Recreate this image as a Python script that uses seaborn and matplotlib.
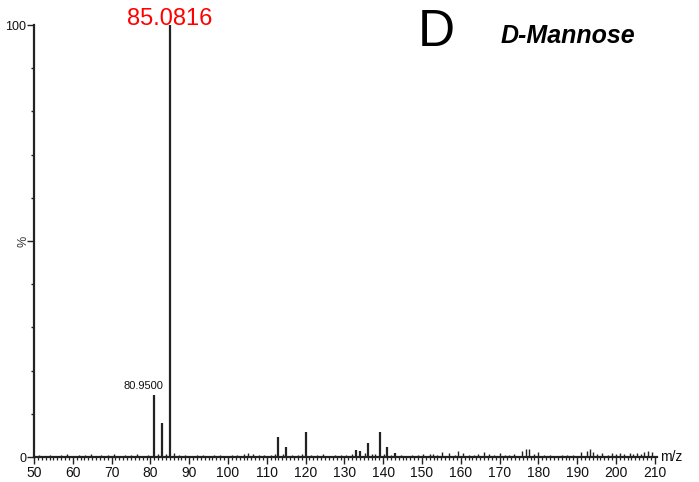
import matplotlib
matplotlib.use("Agg")
import matplotlib.pyplot as plt
from matplotlib.ticker import MultipleLocator, FixedLocator
import seaborn as sns

# Labelled / prominent fragment ions (m/z, relative intensity %)
peak_mz = [80.95, 83.0, 85.0816, 113.0, 115.0, 120.0, 133.1, 134.1, 136.1, 139.1, 141.0, 143.0]
peak_int = [14.4, 7.8, 100.0, 4.7, 2.4, 5.9, 1.6, 1.4, 3.3, 5.9, 2.4, 0.9]

# Low-level background ions along the baseline
noise_mz = [
    51.2, 52.5, 54.1, 55.3, 57.0, 58.4, 60.2, 61.5, 63.1, 64.6,
    66.0, 67.3, 69.0, 70.5, 72.1, 73.4, 75.0, 76.6, 78.1, 79.3,
    82.0, 84.1, 86.2, 87.5, 89.0, 90.3, 92.0, 93.6, 95.1, 96.4,
    98.0, 99.5, 101.0, 102.4, 104.0, 105.1, 106.5, 108.0, 109.3, 111.0,
    112.2, 114.1, 116.5, 118.0, 119.2, 121.5, 123.0, 124.6, 126.1, 127.5,
    129.0, 130.5, 132.0, 135.2, 137.1, 138.0, 140.2, 142.0, 144.5, 146.0,
    147.5, 149.0, 150.3, 152.0, 152.8, 154.0, 155.2, 157.0, 158.5, 159.3,
    160.6, 162.0, 163.4, 164.5, 166.0, 167.2, 168.5, 170.0, 171.3, 172.5,
    173.8, 175.7, 176.7, 177.7, 179.0, 180.0, 181.5, 183.0, 184.5, 186.0,
    187.5, 189.0, 191.0, 192.5, 193.2, 194.0, 195.2, 196.5, 198.0, 199.0,
    200.0, 201.0, 202.2, 203.5, 204.5, 205.5, 206.5, 207.2, 208.2, 209.3,
]
noise_int = [
    0.4, 0.3, 0.5, 0.3, 0.4, 0.6, 0.3, 0.4, 0.5, 0.8,
    0.3, 0.5, 0.4, 0.7, 0.3, 0.4, 0.5, 0.6, 0.3, 0.5,
    0.6, 0.8, 0.9, 0.5, 0.4, 0.3, 0.5, 0.4, 0.3, 0.5,
    0.4, 0.3, 0.5, 0.4, 0.6, 1.0, 0.7, 0.5, 0.4, 0.5,
    0.6, 0.7, 0.5, 0.4, 0.6, 0.5, 0.4, 0.6, 0.3, 0.4,
    0.5, 0.4, 0.6, 0.9, 0.7, 0.8, 0.6, 0.5, 0.4, 0.3,
    0.5, 0.4, 0.6, 0.6, 0.7, 0.5, 1.2, 0.9, 0.5, 1.3,
    1.0, 0.5, 0.4, 0.6, 1.2, 0.6, 0.5, 1.0, 0.4, 0.5,
    0.6, 1.5, 1.8, 1.8, 0.6, 1.2, 0.5, 0.4, 0.3, 0.5,
    0.4, 0.5, 1.2, 1.5, 1.8, 1.2, 0.7, 1.0, 0.5, 0.9,
    0.6, 0.9, 0.6, 1.0, 0.6, 1.0, 0.7, 1.2, 1.5, 1.2,
]

base_peak = "85.0816"
sub_label = "80.9500"
panel = "D"
compound = "D-Mannose"
x_ticks = list(range(50, 211, 10))

sns.set_theme(style="ticks")
plt.rcParams["font.family"] = ["Liberation Sans", "DejaVu Sans"]

fig = plt.figure(figsize=(6.99, 4.82), dpi=100)
fig.patch.set_facecolor("white")
ax = fig.add_axes([34 / 699, 25 / 482, 622.7 / 699, 432 / 482])
ax.set_facecolor("white")

ax.vlines(noise_mz, 0, noise_int, color="#222222", linewidth=1.0)
ax.vlines(peak_mz, 0, peak_int, color="#222222", linewidth=1.6)

ax.set_xlim(50, 210.5)
ax.set_ylim(0, 100)
sns.despine(ax=ax)
for s in ("left", "bottom"):
    ax.spines[s].set_color("#222222")
    ax.spines[s].set_linewidth(1.6)

ax.xaxis.set_major_locator(FixedLocator(x_ticks))
ax.set_xticklabels([str(t) for t in x_ticks])
ax.xaxis.set_minor_locator(MultipleLocator(1))
ax.tick_params(axis="x", which="major", length=5, width=1.0, color="#222222",
               labelsize=10, pad=1.5, labelcolor="#111111")
ax.tick_params(axis="x", which="minor", length=2.5, width=0.9, color="#222222")

ax.yaxis.set_major_locator(FixedLocator([0, 50, 100]))
ax.set_yticklabels(["0", "", "100"])
ax.yaxis.set_minor_locator(MultipleLocator(10))
ax.tick_params(axis="y", which="major", length=5, width=1.0, color="#222222",
               labelsize=9, pad=0.5, labelcolor="#111111")
ax.tick_params(axis="y", which="minor", length=2.5, width=1.0, color="#222222")

ax.text(-0.017, 0.5, "%", rotation=90, transform=ax.transAxes,
        ha="center", va="center", fontsize=9, color="#333333")
ax.text(1.006, 0.0, "m/z", transform=ax.transAxes, ha="left", va="center",
        fontsize=10, color="#111111")

# Peak annotations
ax.annotate(base_peak, xy=(peak_mz[2], peak_int[2]), xytext=(0, 0),
            textcoords="offset points", ha="center", va="baseline",
            fontsize=17, color="red", annotation_clip=False)
ax.annotate(sub_label, xy=(peak_mz[0], peak_int[0]), xytext=(-8, 3),
            textcoords="offset points", ha="center", va="bottom",
            fontsize=8, color="#111111")

fig.text(436 / 699, 1 - 32 / 482, panel, ha="center", va="center",
         fontsize=37, color="black")
fig.text(568 / 699, 1 - 36 / 482, compound, ha="center", va="center",
         fontsize=18, fontweight="bold", fontstyle="italic", color="black")

fig.savefig("out.png", dpi=100, facecolor="white")
